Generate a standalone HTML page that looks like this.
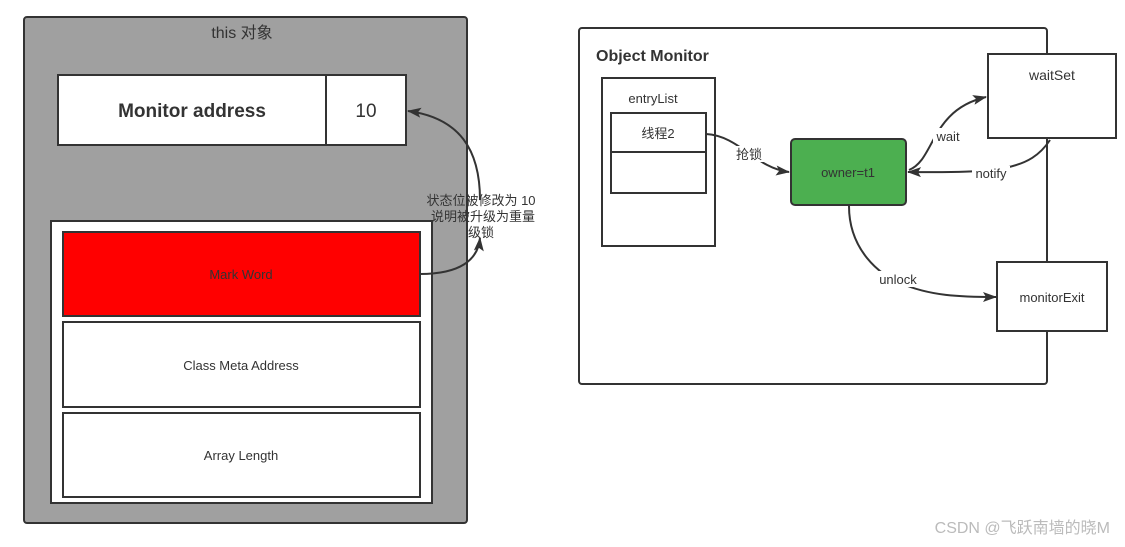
<!DOCTYPE html>
<html><head><meta charset="utf-8"><style>
body{margin:0;background:#fff;}
svg{display:block;font-family:"Liberation Sans","Noto Sans CJK SC",sans-serif;}
</style></head><body>
<svg width="1125" height="547" viewBox="0 0 1125 547" xmlns="http://www.w3.org/2000/svg">
<defs><marker id="a" markerWidth="14" markerHeight="10" refX="13" refY="5" orient="auto" markerUnits="userSpaceOnUse"><path d="M0,0 L14,5 L0,10 L3,5Z" fill="#333"/></marker></defs>
<rect x="24" y="17" width="443" height="506" rx="3" fill="#a0a0a0" stroke="#333" stroke-width="2"/>
<text x="242" y="38" font-size="16" fill="#333" text-anchor="middle">this 对象</text>
<rect x="58" y="75" width="268" height="70" fill="#fff" stroke="#333" stroke-width="2"/>
<text x="192" y="117" font-size="19" font-weight="bold" fill="#333" text-anchor="middle">Monitor address</text>
<rect x="326" y="75" width="80" height="70" fill="#fff" stroke="#333" stroke-width="2"/>
<text x="366" y="117" font-size="19" fill="#333" text-anchor="middle">10</text>
<rect x="51" y="221" width="381" height="282" fill="#fff" stroke="#333" stroke-width="2"/>
<rect x="63" y="232" width="357" height="84" fill="#ff0000" stroke="#333" stroke-width="2"/>
<text x="241" y="279" font-size="13" fill="#333" text-anchor="middle">Mark Word</text>
<rect x="63" y="322" width="357" height="85" fill="#fff" stroke="#333" stroke-width="2"/>
<text x="241" y="370" font-size="13" fill="#333" text-anchor="middle">Class Meta Address</text>
<rect x="63" y="413" width="357" height="84" fill="#fff" stroke="#333" stroke-width="2"/>
<text x="241" y="460" font-size="13" fill="#333" text-anchor="middle">Array Length</text>
<path d="M420,274 C460,274 478,260 480,238" fill="none" stroke="#333" stroke-width="2" marker-end="url(#a)"/>
<path d="M480,200 C480,150 460,118 408,111" fill="none" stroke="#333" stroke-width="2" marker-end="url(#a)"/>
<g font-size="13" fill="#333" text-anchor="middle">
<text x="481" y="205">状态位被修改为 10</text>
<text x="483" y="221">说明被升级为重量</text>
<text x="481" y="237">级锁</text></g>
<rect x="579" y="28" width="468" height="356" rx="3" fill="#fff" stroke="#333" stroke-width="2"/>
<text x="596" y="61" font-size="16" font-weight="bold" fill="#333">Object Monitor</text>
<rect x="602" y="78" width="113" height="168" fill="#fff" stroke="#333" stroke-width="2"/>
<text x="653" y="103" font-size="13" fill="#333" text-anchor="middle">entryList</text>
<rect x="611" y="113" width="95" height="39" fill="#fff" stroke="#333" stroke-width="2"/>
<text x="658" y="138" font-size="13" fill="#333" text-anchor="middle">线程2</text>
<rect x="611" y="152" width="95" height="41" fill="#fff" stroke="#333" stroke-width="2"/>
<rect x="791" y="139" width="115" height="66" rx="4" fill="#4caf50" stroke="#333" stroke-width="2"/>
<text x="848" y="177" font-size="13" fill="#333" text-anchor="middle">owner=t1</text>
<rect x="988" y="54" width="128" height="84" fill="#fff" stroke="#333" stroke-width="2"/>
<text x="1052" y="80" font-size="14" fill="#333" text-anchor="middle">waitSet</text>
<rect x="997" y="262" width="110" height="69" fill="#fff" stroke="#333" stroke-width="2"/>
<text x="1052" y="302" font-size="13" fill="#333" text-anchor="middle">monitorExit</text>
<path d="M706,134 C740,136 755,168 789,172" fill="none" stroke="#333" stroke-width="2" marker-end="url(#a)"/>
<rect x="734" y="146" width="32" height="16" fill="#fff"/>
<text x="749" y="159" font-size="13" fill="#333" text-anchor="middle">抢锁</text>
<path d="M909,170 C935,160 930,110 986,97" fill="none" stroke="#333" stroke-width="2" marker-end="url(#a)"/>
<rect x="933" y="128" width="30" height="16" fill="#fff"/>
<text x="948" y="141" font-size="13" fill="#333" text-anchor="middle">wait</text>
<path d="M1050,140 C1030,170 1000,173 908,172" fill="none" stroke="#333" stroke-width="2" marker-end="url(#a)"/>
<rect x="972" y="166" width="38" height="16" fill="#fff"/>
<text x="991" y="178" font-size="13" fill="#333" text-anchor="middle">notify</text>
<path d="M849,206 C849,250 880,275 900,283 C930,296 960,297 996,297" fill="none" stroke="#333" stroke-width="2" marker-end="url(#a)"/>
<rect x="876" y="271" width="44" height="16" fill="#fff"/>
<text x="898" y="284" font-size="13" fill="#333" text-anchor="middle">unlock</text>
<text x="1110" y="533" font-size="16" fill="#bbb" text-anchor="end">CSDN @飞跃南墙的晓M</text>
</svg>
</body></html>
